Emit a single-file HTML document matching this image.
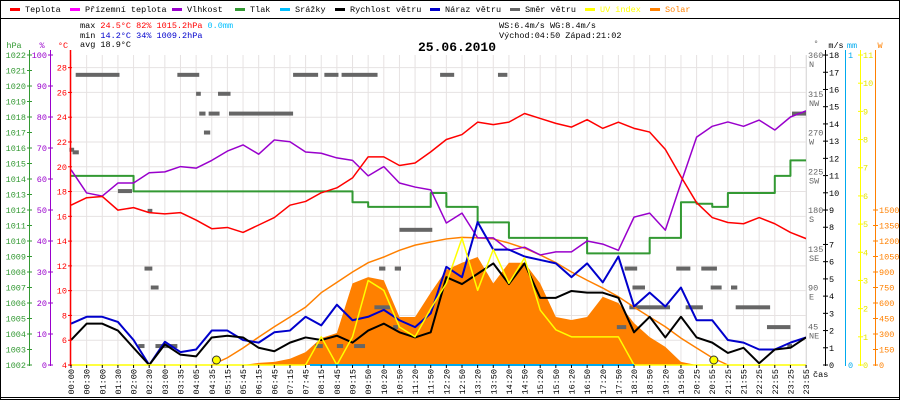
<!DOCTYPE html>
<html><head><meta charset="utf-8"><style>
body{margin:0;background:#fff}
svg{display:block;font-family:"Liberation Mono",monospace;font-size:8.5px}
</style></head><body>
<svg id="c" width="900" height="400" viewBox="0 0 900 400">
<rect x="0.5" y="0.5" width="899" height="399" fill="#fff" stroke="#000"/>
<line x1="0" y1="18.5" x2="900" y2="18.5" stroke="#000"/>
<line x1="0" y1="397.5" x2="900" y2="397.5" stroke="#000"/>
<g id="legend"></g>
<g>
<text x="80" y="28">max <tspan fill="#f00">24.5°C  82%  1015.2hPa</tspan>   <tspan fill="#00bfff">0.0mm</tspan></text>
<text x="80" y="38">min <tspan fill="#00c">14.2°C  34%  1009.2hPa</tspan></text>
<text x="80" y="47">avg 18.9°C</text>
<text x="499" y="28">WS:6.4m/s   WG:8.4m/s</text>
<text x="499" y="38">Východ:04:50 Západ:21:02</text>
</g>
<text x="457" y="51" text-anchor="middle" font-size="13" font-weight="bold">25.06.2010</text>
<g id="plot"></g>
</svg>
<script>
const timeLabels=["00:00","00:30","01:00","01:30","02:00","02:30","03:00","03:35","04:05","04:35","05:15","05:45","06:15","06:45","07:15","07:45","08:15","08:45","09:15","09:50","10:20","10:50","11:20","11:50","12:20","12:50","13:20","13:50","14:20","14:50","15:20","15:50","16:20","16:50","17:20","17:50","18:20","18:50","19:20","19:50","20:25","20:55","21:25","21:55","22:25","22:55","23:25","23:55"];
const temperature=[16.9,17.5,17.6,16.5,16.7,16.3,16.2,16.3,15.7,15.0,15.1,14.7,15.3,15.9,16.9,17.2,17.9,18.3,19.1,20.8,20.8,20.1,20.3,21.2,22.2,22.6,23.6,23.4,23.6,24.3,23.9,23.5,23.2,23.8,23.1,23.6,23.1,22.8,21.4,19.2,17.1,15.9,15.5,15.4,15.9,15.4,14.7,14.2];
const humidity=[63,55.5,54.5,58.7,58.7,62,62.3,64,63.5,66,69,71,68,72.6,72,68.7,68.3,66.8,66,61,64,58.7,57.4,56.5,45.8,49,41,41,37,38,35.5,36.5,36.5,40,39,37,47.7,49,43.5,58.7,73.5,77,78.4,77,79,75.8,80,82];
const pressure=[1014.2,1014.2,1014.2,1014.2,1013.2,1013.2,1013.2,1013.2,1013.2,1013.2,1013.2,1013.2,1013.2,1013.2,1013.2,1013.2,1013.2,1013.2,1012.5,1012.2,1012.2,1012.2,1012.2,1013.1,1012.2,1012.2,1011.2,1011.2,1010.2,1010.2,1010.2,1010.2,1010.2,1009.2,1009.2,1009.2,1009.2,1010.2,1010.2,1012.5,1012.4,1012.2,1013.1,1013.1,1013.1,1014.2,1015.2,1015.2];
const windSpeed=[1.45,2.4,2.4,2.0,1.0,0,1.2,0.6,0.5,1.6,1.7,1.6,1.0,0.8,1.3,1.6,1.45,1.7,1.3,2.0,2.4,1.9,1.6,1.9,5.1,4.7,5.3,5.9,4.7,5.9,3.9,3.9,4.3,4.2,4.2,3.9,1.9,2.8,1.6,2.8,1.6,1.3,0.7,1.0,0.1,0.9,1.0,1.6];
const windGust=[2.4,2.8,2.8,2.5,1.45,0,1.35,0.75,0.9,2.0,2.0,1.45,1.3,1.9,2.0,2.8,2.3,3.5,2.6,2.8,3.2,2.6,2.2,3.0,5.7,5.1,8.3,6.7,6.7,6.3,6.1,5.9,5.1,5.9,4.8,6.3,3.4,4.2,3.4,4.5,2.6,2.6,1.45,1.3,0.9,0.9,1.3,1.6];
const solar=[0,0,0,0,0,0,0,0,0,0,0,0,20,30,60,125,260,310,790,850,820,465,465,700,920,990,1045,790,990,990,790,465,435,465,660,600,405,270,175,30,0,0,0,0,0,0,0,0];
const solarMax=[0,0,0,0,0,0,0,0,0,0,70,165,270,370,465,560,700,800,900,990,1045,1110,1160,1190,1220,1235,1230,1220,1180,1130,1065,990,900,820,745,660,560,465,370,260,165,70,0,0,0,0,0,0];
const uvIndex=[0,0,0,0,0,0,0,0,0,0,0,0,0,0,0,0,1,0,1,3.0,2.65,1.35,1.0,2.0,2.9,4.5,2.65,4.1,2.9,3.8,1.95,1.25,1.0,1.0,1.0,1.0,0,0,0,0,0,0,0,0,0,0,0,0];
const dirFrom=[0.3,6.8,14.2,16.2,17.3,8.0,9.4,8.2,8.8,10.1,8.5,-0.1,0.1,3.0,4.9,21.0,4.7,19.7,20.7,5.1,19.4,20.6,4.3,5.4,15.6,17.0,18.1,23.6,27.3,35.4,38.7,40.3,35.9,40.9,42.2,35.7,39.3,42.5,34.9,44.5,46.1,45.8];
const dirTo=[3.1,8.2,15.8,17.1,19.6,8.3,10.2,8.6,9.5,14.2,8.9,0.2,0.5,3.9,5.2,23.1,5.2,20.1,21.1,5.6,20.4,20.9,4.7,6.8,16.1,17.4,18.8,24.5,27.9,36.2,39.6,41.3,36.7,41.6,42.6,38.3,40.4,44.7,35.5,46.0,47.0,46.1];
const dirDeg=[337,337,337,337,337,315,315,292,292,292,270,250,247,202,179,157,112,112,112,90,67,44,22,22,22,22,22,337,337,112,112,112,90,90,90,67,67,67,44,44,292,22];
const sunEvents=[9.3,41.1];

const NS='http://www.w3.org/2000/svg';
const plot=document.getElementById('plot');
const X0=71, DX=15.64, YB=365;
const xi=i=>X0+i*DX;
const yT=v=>YB-(v-4)*12.39;
const yH=v=>YB-v*3.1;
const yP=v=>YB-(v-1002)*15.5;
const yW=v=>YB-v*17.22;
const yS=v=>YB-v*15.5/150;
const yU=v=>YB-v*28.18;
const yD=v=>YB-v*0.861;
function mk(tag,attrs,parent){const e=document.createElementNS(NS,tag);for(const k in attrs)e.setAttribute(k,attrs[k]);(parent||plot).appendChild(e);return e;}
function txt(x,y,s,fill,anchor,parent){const t=mk('text',{x:x,y:y,fill:fill||'#000','text-anchor':anchor||'start'},parent);t.textContent=s;return t;}

const grid=mk('g',{});


for(let i=0;i<timeLabels.length;i++){mk('line',{x1:xi(i),y1:55,x2:xi(i),y2:YB,stroke:'#e6e2e2'},grid);}
for(let t=6;t<=28;t+=2){mk('line',{x1:70,y1:yT(t),x2:806,y2:yT(t),stroke:'#e6e2e2'},grid);}

let sp='M'+xi(0)+','+YB;
solar.forEach((v,i)=>{sp+=' L'+xi(i)+','+yS(v);});
sp+=' L'+xi(solar.length-1)+','+YB+' Z';
const sa=mk('path',{d:sp,fill:'#ff8000',stroke:'none'});



const wd=mk('g',{fill:'#666'});


dirDeg.forEach((d,k)=>{mk('rect',{x:xi(dirFrom[k]),y:yD(d)-2,width:Math.max(3,xi(dirTo[k])-xi(dirFrom[k])),height:4},wd);});

function line(arr,fy,color,w,name,step){
 let d='';arr.forEach((v,i)=>{if(i===0)d='M'+xi(i)+','+fy(v);else if(step)d+=' H'+xi(i)+' V'+fy(v);else d+=' L'+xi(i)+','+fy(v);});
 const p=mk('path',{d:d,fill:'none',stroke:color,'stroke-width':w,'stroke-linejoin':'round'});
 
 
 return p;}
let sd='',started=false;
solarMax.forEach((v,i)=>{if(v>0||(i>0&&solarMax[i-1]>0)||(i<solarMax.length-1&&solarMax[i+1]>0)){sd+=(started?' L':'M')+xi(i)+','+yS(v);started=true;}});
const sc=mk('path',{d:sd,fill:'none',stroke:'#ff8000','stroke-width':1.5});


line(pressure,yP,'#339933',2,'pressure-line',true);
line(humidity,yH,'#9900cc',1.5,'humidity-line');
line(temperature,yT,'#f00',1.5,'temperature-line');
line(windGust,yW,'#0000cc',2,'wind-gust-line');
line(windSpeed,yW,'#000',2,'wind-speed-line');
line(uvIndex,yU,'#ffff00',1.5,'uv-index-line');
const rl=mk('line',{x1:310,y1:YB,x2:634,y2:YB,stroke:'#00aaee','stroke-width':2});


sunEvents.forEach((e,k)=>{const c=mk('circle',{cx:xi(e),cy:360,r:4,fill:'#ffff00',stroke:'#333','stroke-width':1});
 
 });

const la=mk('g',{});


mk('line',{x1:29.5,y1:50,x2:29.5,y2:366,stroke:'#339933'},la);
mk('line',{x1:50.5,y1:50,x2:50.5,y2:366,stroke:'#9900cc'},la);
mk('line',{x1:70.5,y1:50,x2:70.5,y2:366,stroke:'#f00','stroke-width':1.5},la);
txt(14,48,'hPa','#339933','middle',la);txt(42,48,'%','#9900cc','middle',la);txt(63,48,'°C','#f00','middle',la);
for(let p=1002;p<=1022;p++){mk('line',{x1:27,y1:yP(p),x2:32,y2:yP(p),stroke:'#339933'},la);txt(26,yP(p)+3,String(p),'#339933','end',la);}
for(let h=0;h<=100;h+=10){mk('line',{x1:48,y1:yH(h),x2:53,y2:yH(h),stroke:'#9900cc'},la);txt(47,yH(h)+3,String(h),'#9900cc','end',la);}
for(let t=4;t<=28;t+=2){mk('line',{x1:68,y1:yT(t),x2:72,y2:yT(t),stroke:'#f00'},la);txt(67,yT(t)+3,String(t),'#f00','end',la);}

const ra=mk('g',{});


mk('line',{x1:806.5,y1:55,x2:806.5,y2:366,stroke:'#ddd'},ra);
mk('line',{x1:825.5,y1:50,x2:825.5,y2:366,stroke:'#000'},ra);
mk('line',{x1:845.5,y1:50,x2:845.5,y2:366,stroke:'#00aaee'},ra);
mk('line',{x1:860.5,y1:50,x2:860.5,y2:366,stroke:'#ffff00'},ra);
mk('line',{x1:875.5,y1:50,x2:875.5,y2:366,stroke:'#ff8000'},ra);
txt(816,46,'°','#666','middle',ra);txt(836,48,'m/s','#000','middle',ra);txt(852,48,'mm','#00aaee','middle',ra);txt(880,48,'W','#ff8000','middle',ra);
const comp=['','NE','E','SE','S','SW','W','NW','N'];
for(let d=45;d<=360;d+=45){txt(808,yD(d)+3,String(d),'#666','start',ra);txt(809,yD(d)+12,comp[d/45],'#666','start',ra);}
for(let v=0;v<=18;v++){mk('line',{x1:823,y1:yW(v),x2:828,y2:yW(v),stroke:'#000'},ra);txt(829,yW(v)+3,String(v),'#000','start',ra);}
txt(848,yW(18)+3,'1','#00aaee','start',ra);txt(848,YB+3,'0','#00aaee','start',ra);
for(let u=0;u<=11;u++){mk('line',{x1:858,y1:yU(u),x2:863,y2:yU(u),stroke:'#ffff00'},ra);txt(863,yU(u)+3,String(u),'#e6e600','start',ra);}
for(let w=0;w<=1500;w+=150){mk('line',{x1:873,y1:yS(w),x2:878,y2:yS(w),stroke:'#ff8000'},ra);txt(879,yS(w)+3,String(w),'#ff8000','start',ra);}
txt(813,377,'čas','#000','start',ra);

const xa=mk('g',{});


timeLabels.forEach((l,i)=>{mk('line',{x1:xi(i),y1:YB,x2:xi(i),y2:368,stroke:'#000'},xa);
 const t=txt(0,0,l,'#000','end',xa);t.setAttribute('transform','translate('+(xi(i)+3)+',369) rotate(-90)');});

const legendNames=['Teplota','Přízemní teplota','Vlhkost','Tlak','Srážky','Rychlost větru','Náraz větru','Směr větru','UV index','Solar'];
const legendColors=['#f00','#ff00ff','#9900cc','#339933','#00bfff','#000','#0000cc','#666','#ffff00','#ff8000'];
const legendX=[10,70,172,235,280,335,430,510,585,650];
const lg=document.getElementById('legend');
legendNames.forEach((n,k)=>{const g=mk('g',{},lg);
 
 
 mk('rect',{x:legendX[k],y:8,width:10,height:3,fill:legendColors[k]},g);
 txt(legendX[k]+15,12,n,k>=8?legendColors[k]:'#000','start',g);});
</script>
</body></html>
